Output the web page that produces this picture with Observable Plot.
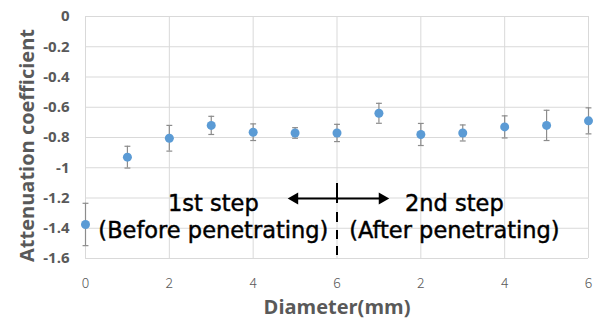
<!DOCTYPE html>
<html><head><meta charset="utf-8">
<script src="https://cdn.jsdelivr.net/npm/d3@7"></script>
<script src="https://cdn.jsdelivr.net/npm/@observablehq/plot@0.6"></script>
<style>body{margin:0;background:#fff;} #chart svg{display:block;}</style>
</head><body><div id="chart"></div>
<script>
// Data
const positions = [0,1,2,3,4,5,6,7,8,9,10,11,12];
const values = [-1.375,-0.93,-0.805,-0.72,-0.765,-0.77,-0.77,-0.64,-0.78,-0.77,-0.73,-0.72,-0.69];
const errors = [0.14,0.072,0.085,0.06,0.055,0.035,0.057,0.066,0.073,0.053,0.073,0.1,0.086];
const xTickPositions = [0,2,4,6,8,10,12];
const xTickLabels = ["0","2","4","6","2","4","6"];
const yTicks = [0,-0.2,-0.4,-0.6,-0.8,-1,-1.2,-1.4,-1.6];
const xTitle = "Diameter(mm)";
const yTitle = "Attenuation coefficient";
const stepLabels = [
  {x: 3.05, y: -1.236, text: "1st step"},
  {x: 3.05, y: -1.415, text: "(Before penetrating)"},
  {x: 8.8, y: -1.236, text: "2nd step"},
  {x: 8.8, y: -1.415, text: "(After penetrating)"}
];
const divider = {x: 6, y1: -1.104, y2: -1.58};
const arrowSpan = {y: -1.203, x1: 4.99, x2: 7.08};

const data = positions.map((p, i) => ({x: p, v: values[i], e: errors[i]}));
const blue = "#5B9BD5";
const errColor = "#8C8C8C";
const grey = "#595959";

const chart = Plot.plot({
  width: 595,
  height: 320,
  marginLeft: 85,
  marginRight: 7,
  marginTop: 16,
  marginBottom: 62,
  style: {fontFamily: "'Open Sans', sans-serif", background: "#fff", overflow: "visible"},
  x: {domain: [0, 12]},
  y: {domain: [-1.6, 0]},
  marks: [
    Plot.gridX(xTickPositions, {stroke: "#D9D9D9", strokeOpacity: 1, strokeWidth: 1}),
    Plot.gridY(yTicks, {stroke: "#D9D9D9", strokeOpacity: 1, strokeWidth: 1}),
    Plot.axisX(xTickPositions, {tickSize: 0, tickPadding: 20, tickFormat: d => xTickLabels[xTickPositions.indexOf(d)], fontSize: 14, fill: grey, fontFamily: "'Noto Sans CJK JP', sans-serif", fontWeight: 300, label: null}),
    Plot.axisY(yTicks, {tickSize: 0, tickPadding: 16, tickFormat: d => String(+(+d).toFixed(1)), fontSize: 15, fontWeight: "bold", fill: grey, label: null}),
    Plot.text([yTitle], {frameAnchor: "left", dx: -58, dy: 8, rotate: -90, textAnchor: "middle", lineAnchor: "middle", fontSize: 20, fontWeight: "bold", fill: grey, fontFamily: "'Open Sans', sans-serif"}),
    Plot.text([xTitle], {frameAnchor: "bottom", dy: 49, lineAnchor: "middle", fontSize: 20, fontWeight: "bold", fill: grey, fontFamily: "'Open Sans', sans-serif"}),
    // error bars
    Plot.ruleX(data, {x: "x", y1: d => d.v - d.e, y2: d => d.v + d.e, stroke: errColor, strokeWidth: 1.2}),
    Plot.link(data, {x1: d => d.x - 0.07, x2: d => d.x + 0.07, y1: d => d.v - d.e, y2: d => d.v - d.e, stroke: errColor, strokeWidth: 1.2}),
    Plot.link(data, {x1: d => d.x - 0.07, x2: d => d.x + 0.07, y1: d => d.v + d.e, y2: d => d.v + d.e, stroke: errColor, strokeWidth: 1.2}),
    Plot.dot(data, {x: "x", y: "v", r: 4.5, fill: blue, stroke: "none"}),
    // annotations
    Plot.ruleX([divider], {x: "x", y1: "y1", y2: "y2", stroke: "#000", strokeWidth: 2, strokeDasharray: "20 9 10 8 9 7 9"}),
    Plot.ruleY([arrowSpan], {y: "y", x1: "x1", x2: "x2", stroke: "#000", strokeWidth: 2}),
    Plot.dot([arrowSpan], {x: "x1", y: "y", symbol: "triangle", r: 4.5, rotate: -90, fill: "#000", stroke: "none"}),
    Plot.dot([arrowSpan], {x: "x2", y: "y", symbol: "triangle", r: 4.5, rotate: 90, fill: "#000", stroke: "none"}),
    Plot.text(stepLabels, {x: "x", y: "y", text: "text", fontSize: 22.5, fill: "#000", stroke: "#000", strokeWidth: 0.45, fontFamily: "'DejaVu Sans', sans-serif", lineAnchor: "middle"})
  ]
});
document.getElementById("chart").appendChild(chart);
</script>
</body></html>
